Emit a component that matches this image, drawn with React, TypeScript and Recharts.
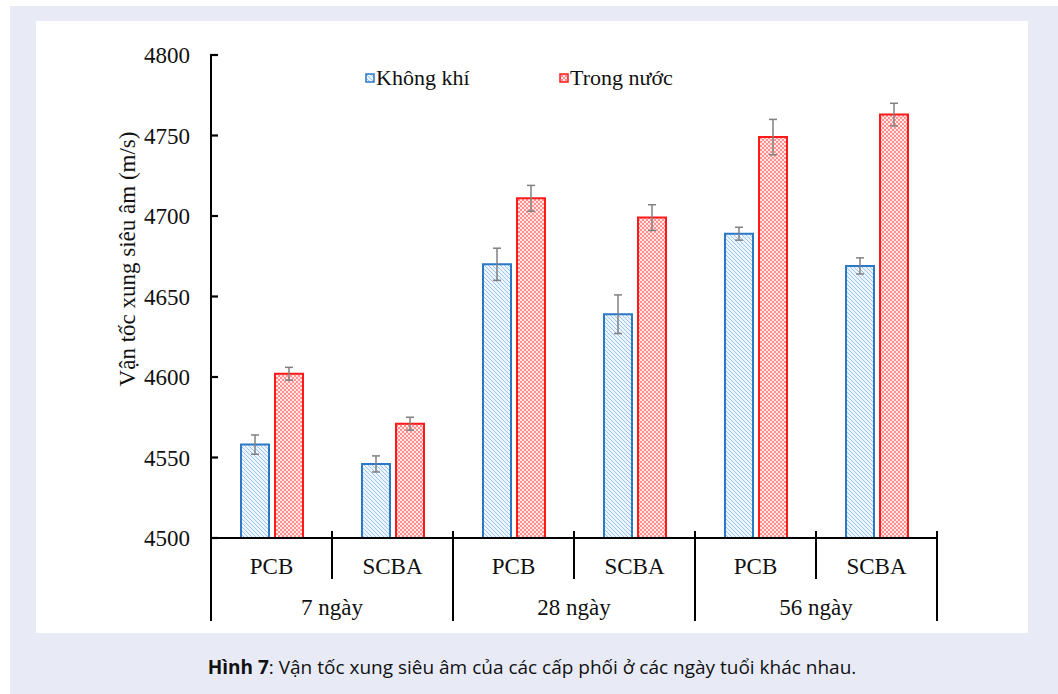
import React from 'react';
import { BarChart, Bar, XAxis, YAxis, ErrorBar, Legend } from 'recharts';

// groups on the x axis
const ages = ['7 ngày', '28 ngày', '56 ngày'];
const mixes = ['PCB', 'SCBA'];

// ultrasonic pulse velocity (m/s), order: 7-PCB, 7-SCBA, 28-PCB, 28-SCBA, 56-PCB, 56-SCBA
const airValues = [4558, 4546, 4670, 4639, 4689, 4669];
const airErrors = [6, 5, 10, 12, 4, 5];
const waterValues = [4602, 4571, 4711, 4699, 4749, 4763];
const waterErrors = [4, 4, 8, 8, 11, 7];

const yTicks = [4500, 4550, 4600, 4650, 4700, 4750, 4800];

const data = airValues.map((v, i) => ({
  key: `${ages[Math.floor(i / 2)]}-${mixes[i % 2]}`,
  mix: mixes[i % 2],
  age: ages[Math.floor(i / 2)],
  air: v,
  airErr: airErrors[i],
  water: waterValues[i],
  waterErr: waterErrors[i],
}));

const CHART_W = 992;
const CHART_H = 612;
const MARGIN = { top: 34, right: 91, bottom: 5, left: 115 };
const Y_W = 60;
const PLOT_W = CHART_W - MARGIN.left - MARGIN.right - Y_W;
const STEP = PLOT_W / data.length;

const serif = '"Liberation Serif", "Times New Roman", serif';
const BLUE = '#2a78c6';
const RED = '#ff1a1a';

function XTick(props: any) {
  const { x, y, index } = props;
  const d = data[index];
  const left = x - STEP / 2;
  const isGroupStart = index % 2 === 0;
  return (
    <g>
      <line x1={left} x2={left} y1={y - 7} y2={isGroupStart ? y + 83 : y + 41} stroke="#000" strokeWidth={2} />
      {index === data.length - 1 && (
        <line x1={x + STEP / 2} x2={x + STEP / 2} y1={y - 7} y2={y + 83} stroke="#000" strokeWidth={2} />
      )}
      <text x={x} y={y + 36} textAnchor="middle" fontFamily={serif} fontSize={23} fill="#111">
        {d.mix}
      </text>
      {!isGroupStart && (
        <text x={left} y={y + 77} textAnchor="middle" fontFamily={serif} fontSize={23} fill="#111">
          {d.age}
        </text>
      )}
    </g>
  );
}

function YTick(props: any) {
  const { x, y, payload } = props;
  return (
    <g>
      <line x1={x + 20} x2={x + 28} y1={y} y2={y} stroke="#000" strokeWidth={2.2} />
      <text x={x} y={y + 8} textAnchor="end" fontFamily={serif} fontSize={23} fill="#111">
        {payload.value}
      </text>
    </g>
  );
}

function LegendBox() {
  const item = (left: number, fill: string, stroke: string, label: string) => (
    <div style={{ position: 'absolute', left, top: 0, display: 'flex', alignItems: 'center', whiteSpace: 'nowrap' }}>
      <svg width={10} height={10} style={{ marginRight: 1 }}>
        <rect x={1} y={1} width={8} height={8} fill={fill} stroke={stroke} strokeWidth={1.5} />
      </svg>
      <span style={{ fontFamily: serif, fontSize: 22, color: '#111' }}>{label}</span>
    </div>
  );
  return (
    <div style={{ position: 'relative', height: 0 }}>
      {item(329, 'url(#hatchBlue)', BLUE, 'Không khí')}
      {item(523, 'url(#dotRed)', RED, 'Trong nước')}
    </div>
  );
}

export default function App() {
  return (
    <div style={{ position: 'absolute', left: 0, top: 0, width: 1058, height: 694, background: '#fff' }}>
      <svg width={0} height={0} style={{ position: 'absolute' }}>
        <defs>
          <pattern id="hatchBlue" width={4} height={4} patternUnits="userSpaceOnUse">
            <rect width={4} height={4} fill="#ecf4fc" />
            <path d="M-1,3 l2,2 M0,0 l4,4 M3,-1 l2,2" stroke="#9cc4ec" strokeWidth={1} />
          </pattern>
          <pattern id="dotRed" width={4} height={4} patternUnits="userSpaceOnUse">
            <rect width={4} height={4} fill="#ffe6e6" />
            <rect x={0} y={0} width={2} height={2} fill="#ff9090" />
            <rect x={2} y={2} width={2} height={2} fill="#ff9090" />
          </pattern>
        </defs>
      </svg>
      <div style={{ position: 'absolute', left: 10, top: 6, width: 1048, height: 688, background: '#e8ebf6' }} />
      <div style={{ position: 'absolute', left: 36, top: 21, width: CHART_W, height: CHART_H, background: '#fff' }}>
        <BarChart width={CHART_W} height={CHART_H} data={data} margin={MARGIN} barSize={28} barGap={6}>
          <XAxis
            dataKey="key"
            interval={0}
            tickLine={false}
            tickSize={0}
            tickMargin={0}
            height={90}
            axisLine={{ stroke: '#000', strokeWidth: 2 }}
            tick={<XTick />}
          />
          <YAxis
            domain={[4500, 4800]}
            ticks={yTicks}
            width={Y_W}
            tickLine={false}
            tickSize={0}
            tickMargin={21}
            axisLine={{ stroke: '#000', strokeWidth: 2 }}
            tick={<YTick />}
            allowDataOverflow
            label={{
              content: () => (
                <text
                  x={91}
                  y={238}
                  transform="rotate(-90 91 238)"
                  textAnchor="middle"
                  dominantBaseline="central"
                  fontFamily={serif}
                  fontSize={23}
                  fill="#111"
                >
                  Vận tốc xung siêu âm (m/s)
                </text>
              ),
            }}
          />
          <Legend verticalAlign="top" wrapperStyle={{ left: 0, top: 44, width: CHART_W }} content={() => <LegendBox />} />
          <Bar dataKey="air" name="Không khí" fill="url(#hatchBlue)" stroke={BLUE} strokeWidth={2} isAnimationActive={false}>
            <ErrorBar dataKey="airErr" width={4} stroke="#808080" strokeWidth={1.5} />
          </Bar>
          <Bar dataKey="water" name="Trong nước" fill="url(#dotRed)" stroke={RED} strokeWidth={2} isAnimationActive={false}>
            <ErrorBar dataKey="waterErr" width={4} stroke="#808080" strokeWidth={1.5} />
          </Bar>
        </BarChart>
      </div>
      <div
        style={{
          position: 'absolute',
          left: 36,
          top: 655,
          width: CHART_W,
          textAlign: 'center',
          fontFamily: '"Open Sans", "Noto Sans", sans-serif',
          fontSize: 19,
          lineHeight: '24px',
          color: '#111',
        }}
      >
        <b>Hình 7</b>: Vận tốc xung siêu âm của các cấp phối ở các ngày tuổi khác nhau.
      </div>
    </div>
  );
}
